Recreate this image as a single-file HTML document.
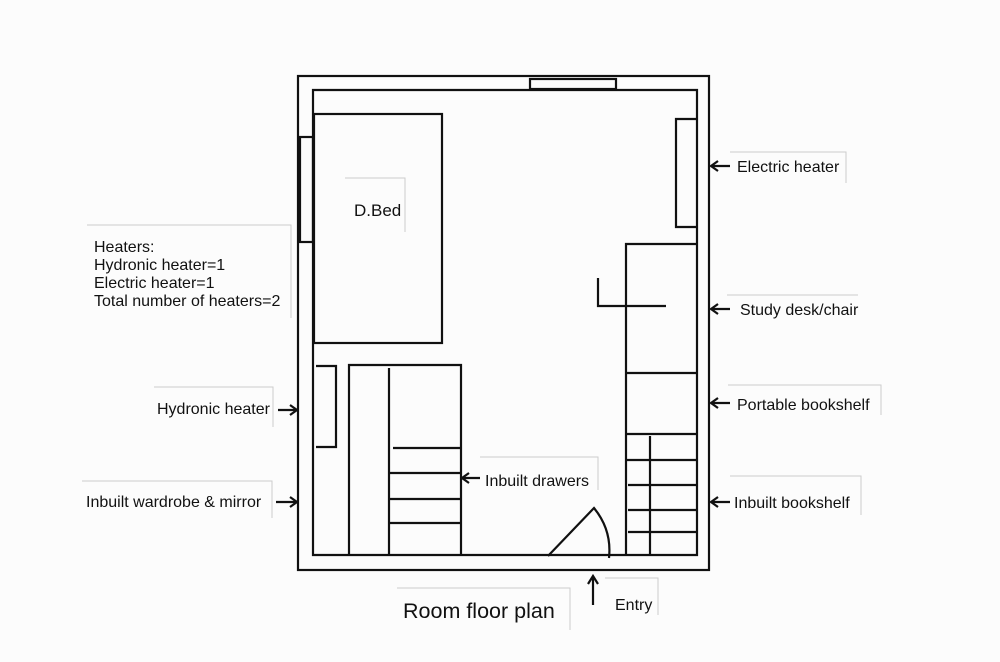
<!DOCTYPE html>
<html><head><style>
html,body{margin:0;padding:0;background:#fcfcfc;}
svg{display:block}
text{font-family:"Liberation Sans",sans-serif;fill:#111}
</style></head><body>
<svg width="1000" height="662" viewBox="0 0 1000 662" xmlns="http://www.w3.org/2000/svg" font-size="16">
<rect width="1000" height="662" fill="#fcfcfc"/>
<g fill="none" stroke="#ccc" stroke-width="1">
<path d="M87 225 H291 V318"/>
<path d="M154 387 H273 V427"/>
<path d="M82 481 H272 V518"/>
<path d="M345 178 H405 V232"/>
<path d="M730 152 H846 V183"/>
<path d="M727 295 H858"/>
<path d="M728 385 H881 V415"/>
<path d="M730 476 H861 V515"/>
<path d="M480 457 H598 V490"/>
<path d="M397 588 H570 V630"/>
<path d="M605 578 H658 V615"/>
</g>
<g fill="none" stroke="#111" stroke-width="2.2">
<rect x="298" y="76" width="411" height="494"/>
<path d="M313 90 H697 V555 H313 Z"/>
<rect x="530" y="79" width="86" height="10"/>
<rect x="300" y="137" width="13" height="105"/>
<rect x="314" y="114" width="128" height="229"/>
<path d="M697 119 H676 V227 H697"/>
<path d="M697 244 H626 V555"/>
<path d="M598 278 V306 H666"/>
<path d="M626 373 H697"/>
<path d="M626 434 H697 M650 436 V556 M626 460 H697 M628 485 H697 M628 510 H697 M628 532 H697"/>
<path d="M316 366 H336 V447 H316"/>
<path d="M349 555 V365 H461 V555 M389 368 V555 M393 448 H460 M390 473 H460 M390 499 H460 M390 523 H460"/>
<path d="M548 556 L594 508 Q612 530 609 558"/>
<path d="M593 605 V576 M588 584 L593 576 L598 584"/>
<path d="M712 166 H730 M718 161 L711 166 L718 171"/>
<path d="M712 309 H730 M718 304 L711 309 L718 314"/>
<path d="M712 403 H730 M718 398 L711 403 L718 408"/>
<path d="M712 502 H730 M718 497 L711 502 L718 507"/>
<path d="M462 478 H480 M469 473 L462 478 L469 483"/>
<path d="M278 410 H296 M290 405 L297 410 L290 415"/>
<path d="M276 502 H296 M290 497 L297 502 L290 507"/>
</g>
<text x="354" y="216" style="font-size:17px">D.Bed</text>
<text x="94" y="252">Heaters:</text>
<text x="94" y="270">Hydronic heater=1</text>
<text x="94" y="288">Electric heater=1</text>
<text x="94" y="306">Total number of heaters=2</text>
<text x="157" y="414">Hydronic heater</text>
<text x="86" y="507">Inbuilt wardrobe &amp; mirror</text>
<text x="737" y="172">Electric heater</text>
<text x="740" y="315">Study desk/chair</text>
<text x="737" y="410">Portable bookshelf</text>
<text x="734" y="508">Inbuilt bookshelf</text>
<text x="485" y="486">Inbuilt drawers</text>
<text x="403" y="618" style="font-size:21.5px">Room floor plan</text>
<text x="615" y="610">Entry</text>
</svg>
</body></html>
